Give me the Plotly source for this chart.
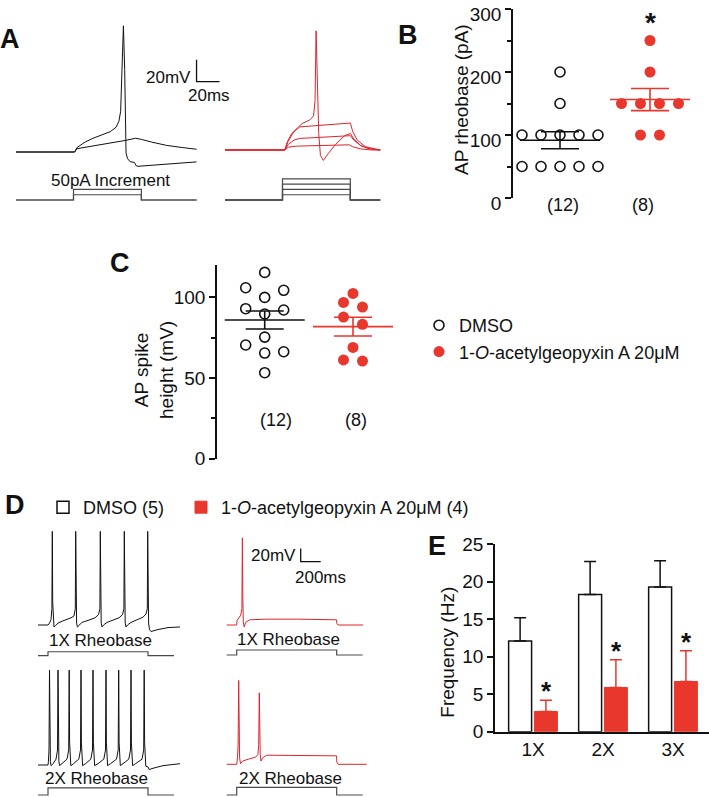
import numpy as np
import plotly.graph_objects as go

W, H = 709, 797
RED = "#e8372c"
TRACE_RED = "#e0242c"
INK = "#111111"
STEP = "#4a4a4a"
FONT = "Arial, 'Liberation Sans', Helvetica, sans-serif"

# ------------------------------------------------------------------ data
group_names = ["DMSO", "1-<i>O</i>-acetylgeopyxin A 20μM"]
bar_names = ["DMSO (5)", "1-<i>O</i>-acetylgeopyxin A 20μM (4)"]

# Panel B : AP rheobase (pA)
rheo_dmso = [200, 150, 100, 100, 100, 100, 100, 50, 50, 50, 50, 50]
rheo_drug = [250, 200, 150, 150, 150, 150, 100, 100]
b_ticks = [0, 100, 200, 300]

# Panel C : AP spike height (mV)
spike_dmso = [115.4, 105.9, 104.3, 99.9, 92.9, 92.1, 89.6, 75.3, 70.4, 66.2, 65.4, 53.2]
spike_drug = [102.4, 96.8, 93.9, 87.7, 83.2, 68.9, 61.1, 60.4]
c_ticks = [0, 50, 100]

# Panel E : firing frequency (Hz)
e_categories = ["1X", "2X", "3X"]
freq_dmso = [12.1, 18.3, 19.3]
freq_dmso_sem = [3.1, 4.4, 3.5]
freq_drug = [2.7, 5.9, 6.7]
freq_drug_sem = [1.5, 3.7, 4.1]
e_ticks = [0, 5, 10, 15, 20, 25]

# Panel A : voltage traces (ms, mV)
a_dmso_sub_t = [0, 51, 53, 65, 80, 95, 104, 109, 118, 131, 145, 157]
a_dmso_sub_v = [-65, -65, -62, -60, -57, -54.5, -52.5, -53.5, -56, -59, -61, -62.5]
a_dmso_ap_t = [0, 51, 53, 60, 67, 75, 82, 87, 89.5, 91, 92.2, 93.4, 94.5, 95.7, 97, 99.2, 103, 104.5, 106, 157]
a_dmso_ap_v = [-65, -65, -61, -56, -52.5, -49.5, -46.5, -42.5, -37, -28, 5, 49.7, 10, -66, -71, -73.8, -74.5, -77.5, -78, -74]

a_drug_sub1_t = [0, 52, 55, 62, 80, 108, 111, 118, 128, 135]
a_drug_sub1_v = [-65, -65, -62.5, -61.5, -61, -60.3, -62, -64, -65, -65]
a_drug_sub2_t = [0, 52, 55, 60, 65, 85, 104, 109, 112, 118, 126, 135]
a_drug_sub2_v = [-65, -65, -60, -56, -54.5, -53.3, -52.2, -52, -56, -61, -64, -65]
a_drug_sub3_t = [0, 52, 54, 58, 65, 85, 104, 109, 111, 115, 122, 135]
a_drug_sub3_v = [-65, -65, -58, -50, -44, -42.3, -40.7, -40.5, -48, -56, -62, -65]
a_drug_ap_t = [0, 52, 55, 60, 67, 74, 77, 78.3, 79.2, 80.2, 81.5, 83, 85.5, 90, 96, 104, 109, 112, 118, 126, 135]
a_drug_ap_v = [-65, -65, -57, -48, -41, -37.5, -34, -20, 43.3, -10, -50, -70, -74.5, -68, -60, -52, -50, -55, -61, -64, -65]

# Panel A : current protocol (ms, pA)
a_step_on, a_step_off = 50, 109
a_dmso_end, a_drug_end = 157, 135
a_dmso_steps = [50, 100]
a_drug_steps = [50, 100, 150, 200]

# Panel D : voltage traces (ms, mV)
d_dmso_1x_t = [0, 100, 115, 130, 139, 143, 147, 152, 160, 175, 200, 260, 330, 360, 373, 377, 381, 386, 394, 410,
               440, 500, 570, 605, 619, 623, 627, 632, 640, 655, 690, 750, 810, 845, 859, 863, 867, 872, 880, 895,
               930, 990, 1050, 1080, 1093, 1097, 1101, 1106, 1115, 1130, 1200, 1300, 1420]
d_dmso_1x_v = [-65, -65, -62, -57, -40, 79, -30, -62, -68, -66, -62, -58, -54, -51, -40, 79, -30, -62, -68, -65,
               -61, -58, -54, -49, -40, 79, -30, -62, -68, -65, -61, -57, -54, -49, -40, 79, -30, -62, -68, -65,
               -61, -57, -53, -48, -40, 79, -30, -62, -72, -75, -72, -69, -68]
d_dmso_2x_t = [0, 100, 104, 110, 115, 119, 124, 131,
               150, 180, 195, 200, 204, 209, 216,
               240, 290, 307, 312, 316, 321, 328,
               355, 408, 425, 430, 434, 439, 446,
               475, 528, 545, 550, 554, 559, 566,
               600, 658, 675, 680, 684, 689, 696,
               725, 785, 802, 807, 811, 816, 823,
               850, 908, 925, 930, 934, 939, 946,
               975, 1040, 1057, 1062, 1066, 1071, 1078,
               1100, 1112, 1150, 1250, 1420]
d_dmso_2x_v = [-65, -65, -60, -42, 81, -30, -60, -66,
               -63, -56, -42, 81, -30, -60, -66,
               -63, -56, -42, 81, -30, -60, -66,
               -63, -56, -42, 81, -30, -60, -66,
               -63, -56, -42, 81, -30, -60, -66,
               -63, -56, -42, 81, -30, -60, -66,
               -63, -56, -42, 81, -30, -60, -66,
               -63, -56, -42, 81, -30, -60, -66,
               -63, -56, -42, 81, -30, -60, -67,
               -68, -72, -70, -66, -63]
d_drug_1x_t = [0, 100, 104, 120, 140, 152, 157, 161, 166, 175, 190, 230, 400, 700, 1000, 1098, 1102, 1115, 1365]
d_drug_1x_v = [-65, -65, -58, -55, -50, -40, 69, -20, -60, -68, -61, -57, -56, -56, -56.5, -57, -63, -65, -65]
d_drug_2x_t = [0, 100, 108, 114, 120, 124, 129, 138, 160, 220, 290, 312, 320, 326, 330, 335, 343, 360, 400, 600,
               900, 1098, 1102, 1115, 1400]
d_drug_2x_v = [-65, -65, -55, -35, 64, -20, -55, -64, -60, -57, -54, -50, -35, 45, -20, -50, -60, -55, -51, -51,
               -52, -52, -62, -65, -65]

# Panel D : current protocol (ms, pA)
d_step_on, d_step_off, d_end = 100, 1100, 1360
d_dmso_currents = [110, 200]
d_drug_currents = [140, 215]

# ------------------------------------------------------------------ helpers
def px_x(p):
    return p / W


def px_y(p):
    return 1 - p / H


def aname(n, k):
    return f"{k}axis" if n == 1 else f"{k}axis{n}"


def aref(n, k):
    return k if n == 1 else f"{k}{n}"


layout = {}


def trace_axes(n, xbox, ybox, xref, yref):
    xp, xv, xu = xref
    yp, yv, yu = yref
    xr = [xv + (xbox[0] - xp) * xu, xv + (xbox[1] - xp) * xu]
    yr = [yv + (yp - ybox[1]) * yu, yv + (yp - ybox[0]) * yu]
    layout[aname(n, "x")] = dict(domain=[px_x(xbox[0]), px_x(xbox[1])], range=xr, visible=False,
                                 anchor=aref(n, "y"), fixedrange=True, automargin=False)
    layout[aname(n, "y")] = dict(domain=[px_y(ybox[1]), px_y(ybox[0])], range=yr, visible=False,
                                 anchor=aref(n, "x"), fixedrange=True, automargin=False)


fig = go.Figure()


def add_line(n, t, v, color, width=1.0):
    fig.add_trace(go.Scatter(x=t, y=v, mode="lines", line=dict(color=color, width=width),
                             xaxis=aref(n, "x"), yaxis=aref(n, "y"), showlegend=False, hoverinfo="skip"))


def add_step(n, t_on, t_off, t_end, amp, color=STEP, width=1.2):
    add_line(n, [0, t_on, t_on, t_off, t_off, t_end], [0, 0, amp, amp, 0, 0], color, width)


def add_scalebar(n, t0, v0, dt, dv):
    add_line(n, [t0, t0, t0 + dt], [v0 + dv, v0, v0], INK, 1.3)


def swarm_offsets(values, px_per_unit, gap_px=7.5):
    order = sorted(range(len(values)), key=lambda i: -values[i])
    rows = []
    for i in order:
        if rows and (values[rows[-1][-1]] - values[i]) * px_per_unit <= gap_px:
            rows[-1].append(i)
        else:
            rows.append([i])
    patterns = {1: [0], 2: [-0.5, 0.5], 3: [-1, 1, 0]}
    off = [0.0] * len(values)
    for r in rows:
        n = len(r)
        pat = patterns.get(n, [k - (n - 1) / 2 for k in range(n)])
        for i, s in zip(r, pat):
            off[i] = s
    return off


def value_axis(ticks, rng, dom, minor=True, label_shift=0):
    mids = [(a + b) / 2 for a, b in zip(ticks[:-1], ticks[1:])]
    d = dict(range=rng, domain=dom, tickmode="array", tickvals=ticks, ticks="outside", ticklen=6,
             tickwidth=1.5, tickcolor=INK, showline=True, linewidth=1.5, linecolor=INK, showgrid=False,
             zeroline=False, tickfont=dict(size=19, color=INK), fixedrange=True, automargin=False,
             ticklabeloverflow="allow", ticklabelshift=label_shift)
    if minor:
        d["minor"] = dict(tickmode="array", tickvals=mids, ticks="outside", ticklen=4, tickwidth=1.5,
                          tickcolor=INK, showgrid=False)
    return d


SLOT_PX = 19

# ------------------------------------------------------------------ panel B (axis 1)
b_px_unit_x = 90.0
b_x0 = 560
b_dom_x = (513, 705)
b_dom_y = (9, 198)
b_py_unit = (b_dom_y[1] - b_dom_y[0]) / 300.0
layout["xaxis"] = dict(domain=[px_x(b_dom_x[0]), px_x(b_dom_x[1])],
                       range=[1 + (b_dom_x[0] - b_x0) / b_px_unit_x, 1 + (b_dom_x[1] - b_x0) / b_px_unit_x],
                       visible=False, anchor="y", fixedrange=True, automargin=False)
layout["yaxis"] = value_axis(b_ticks, [0, 300], [px_y(b_dom_y[1]), px_y(b_dom_y[0])], label_shift=5)
layout["yaxis"]["anchor"] = "x"

# ------------------------------------------------------------------ panel C (axis 2)
c_px_unit_x = 88.3
c_x0 = 264.7
c_dom_x = (217, 405)
c_dom_y = (265, 458.5)
c_py_unit = (c_dom_y[1] - c_dom_y[0]) / 120.0
layout["xaxis2"] = dict(domain=[px_x(c_dom_x[0]), px_x(c_dom_x[1])],
                        range=[1 + (c_dom_x[0] - c_x0) / c_px_unit_x, 1 + (c_dom_x[1] - c_x0) / c_px_unit_x],
                        visible=False, anchor="y2", fixedrange=True, automargin=False)
layout["yaxis2"] = value_axis(c_ticks, [0, 120], [px_y(c_dom_y[1]), px_y(c_dom_y[0])])
layout["yaxis2"]["anchor"] = "x2"


def scatter_group(n, vals, center, px_unit_x, py_unit, color, open_marker, name, legend):
    offs = swarm_offsets(vals, py_unit)
    xs = [center + o * SLOT_PX / px_unit_x for o in offs]
    if open_marker:
        marker = dict(symbol="circle-open", size=10, color=INK, line=dict(width=1.6, color=INK))
    else:
        marker = dict(symbol="circle", size=11, color=color, line=dict(width=0))
    arr = np.array(vals, dtype=float)
    m = arr.mean()
    sem = arr.std(ddof=1) / np.sqrt(len(arr))
    lc = INK if open_marker else RED
    half = 40.0 / px_unit_x
    fig.add_trace(go.Scatter(x=[center - half, center + half], y=[m, m], mode="lines",
                             line=dict(color=lc, width=1.6), xaxis=aref(n, "x"), yaxis=aref(n, "y"),
                             showlegend=False, hoverinfo="skip"))
    fig.add_trace(go.Scatter(x=[center], y=[m], mode="markers", marker=dict(size=1, opacity=0),
                             error_y=dict(type="data", array=[sem], symmetric=True, width=19, thickness=1.6,
                                          color=lc),
                             xaxis=aref(n, "x"), yaxis=aref(n, "y"), showlegend=False, hoverinfo="skip"))
    fig.add_trace(go.Scatter(x=xs, y=vals, mode="markers", marker=marker, name=name,
                             xaxis=aref(n, "x"), yaxis=aref(n, "y"), showlegend=legend, legend="legend",
                             hoverinfo="skip", cliponaxis=False))


scatter_group(1, rheo_dmso, 1, b_px_unit_x, b_py_unit, INK, True, group_names[0], False)
scatter_group(1, rheo_drug, 2, b_px_unit_x, b_py_unit, RED, False, group_names[1], False)
scatter_group(2, spike_dmso, 1, c_px_unit_x, c_py_unit, INK, True, group_names[0], True)
scatter_group(2, spike_drug, 2, c_px_unit_x, c_py_unit, RED, False, group_names[1], True)

# ------------------------------------------------------------------ panel E (axis 3)
e_dom_x = (495, 709)
e_dom_y = (544.3, 731.7)
layout["xaxis3"] = dict(domain=[px_x(e_dom_x[0]), px_x(e_dom_x[1])], type="category",
                        categoryorder="array", categoryarray=e_categories, range=[-0.543, 2.514],
                        showline=True, linewidth=1.5, linecolor=INK, ticks="", showgrid=False,
                        tickfont=dict(size=19, color=INK), anchor="y3", fixedrange=True, automargin=False)
layout["yaxis3"] = value_axis(e_ticks, [0, 25], [px_y(e_dom_y[1]), px_y(e_dom_y[0])], minor=False)
layout["yaxis3"]["anchor"] = "x3"

fig.add_trace(go.Bar(x=e_categories, y=freq_dmso, name=bar_names[0], legend="legend2",
                     marker=dict(color="white", line=dict(color=INK, width=1.5)),
                     error_y=dict(type="data", array=freq_dmso_sem, arrayminus=[0] * 3, symmetric=False,
                                  color=INK, thickness=1.5, width=6),
                     xaxis="x3", yaxis="y3", hoverinfo="skip"))
fig.add_trace(go.Bar(x=e_categories, y=freq_drug, name=bar_names[1], legend="legend3",
                     marker=dict(color=RED, line=dict(color=RED, width=1)),
                     error_y=dict(type="data", array=freq_drug_sem, arrayminus=[0] * 3, symmetric=False,
                                  color=RED, thickness=1.5, width=6),
                     xaxis="x3", yaxis="y3", hoverinfo="skip"))

# ------------------------------------------------------------------ panel A traces
A_MS = 20 / 23.0
A_MV = 20 / 22.0
A_PA = 9.5
trace_axes(4, (10, 230), (15, 175), (16, 0, A_MS), (152, -65, A_MV))
trace_axes(5, (10, 230), (180, 205), (16, 0, A_MS), (200, 0, A_PA))
trace_axes(6, (220, 385), (15, 175), (225, 0, A_MS), (150, -65, A_MV))
trace_axes(7, (220, 385), (170, 205), (225, 0, A_MS), (200, 0, A_PA))

add_line(4, a_dmso_sub_t, a_dmso_sub_v, INK)
add_line(4, a_dmso_ap_t, a_dmso_ap_v, INK)
for amp in a_dmso_steps:
    add_step(5, a_step_on, a_step_off, a_dmso_end, amp)
for t, v in [(a_drug_sub1_t, a_drug_sub1_v), (a_drug_sub2_t, a_drug_sub2_v),
             (a_drug_sub3_t, a_drug_sub3_v), (a_drug_ap_t, a_drug_ap_v)]:
    add_line(6, t, v, TRACE_RED)
for amp in a_drug_steps:
    add_step(7, a_step_on, a_step_off, a_drug_end, amp)
add_scalebar(4, 157, -1.1, 20, 20)

# ------------------------------------------------------------------ panel D traces
D_MS = 10.0
D_MV = 20 / 13.0
D_PA = 28.0
trace_axes(8, (30, 200), (515, 636), (38, 0, D_MS), (625, -65, D_MV))
trace_axes(9, (30, 200), (642, 662), (38, 0, D_MS), (655.7, 0, D_PA))
trace_axes(10, (30, 200), (655, 772), (38, 0, D_MS), (765, -65, D_MV))
trace_axes(11, (30, 200), (780, 797), (38, 0, D_MS), (795, 0, D_PA))
trace_axes(12, (220, 400), (515, 636), (226.7, 0, D_MS), (625, -65, D_MV))
trace_axes(13, (220, 400), (640, 662), (226.7, 0, D_MS), (655, 0, D_PA))
trace_axes(14, (220, 400), (655, 772), (226.7, 0, D_MS), (764.3, -65, D_MV))
trace_axes(15, (220, 400), (780, 797), (226.7, 0, D_MS), (795, 0, D_PA))

add_line(8, d_dmso_1x_t, d_dmso_1x_v, INK)
add_step(9, d_step_on, d_step_off, d_end, d_dmso_currents[0])
add_line(10, d_dmso_2x_t, d_dmso_2x_v, INK)
add_step(11, d_step_on, d_step_off, d_end, d_dmso_currents[1])
add_line(12, d_drug_1x_t, d_drug_1x_v, TRACE_RED)
add_step(13, d_step_on, d_step_off, d_end, d_drug_currents[0])
add_line(14, d_drug_2x_t, d_drug_2x_v, TRACE_RED)
add_step(15, d_step_on, d_step_off, d_end, d_drug_currents[1])
add_scalebar(12, 740, 32.5, 200, 20)

# ------------------------------------------------------------------ annotations
anns = []


def ann(text, xp, yp, size=17, xanchor="center", angle=0, **kw):
    d = dict(text=text, x=px_x(xp), y=px_y(yp), xref="paper", yref="paper", xanchor=xanchor,
             yanchor="middle", showarrow=False, font=dict(size=size, color=INK, family=FONT),
             textangle=angle)
    d.update(kw)
    anns.append(d)


for lab, xp, yp in [("A", 10, 39), ("B", 408, 35), ("C", 120, 263), ("D", 14.5, 505), ("E", 436.5, 546)]:
    ann(f"<b>{lab}</b>", xp, yp, size=27)

ann("20mV", 193, 77.5, xanchor="right")
ann("20ms", 209, 96)
ann("50pA Increment", 110.8, 180)

ann("20mV", 298, 555, xanchor="right")
ann("200ms", 320, 577.5)
ann("1X Rheobase", 100, 640)
ann("1X Rheobase", 288.8, 639)
ann("2X Rheobase", 96.7, 778)
ann("2X Rheobase", 290.5, 778)

ann("AP rheobase (pA)", 461, 100, size=19, angle=-90)
ann("AP spike<br>height (mV)", 154, 370, size=19, angle=-90)
ann("Frequency (Hz)", 446.7, 652, size=19, angle=-90)

# group sizes
for n, grp, shifts, yp in [(1, [rheo_dmso, rheo_drug], [3, -7], 205), (2, [spike_dmso, spike_drug], [11, 3], 420)]:
    for k, vals in enumerate(grp):
        anns.append(dict(text=f"({len(vals)})", x=k + 1, y=px_y(yp), xref=aref(n, "x"), yref="paper",
                         xshift=shifts[k], showarrow=False, yanchor="middle",
                         font=dict(size=18, color=INK, family=FONT)))

# significance stars
anns.append(dict(text="<b>*</b>", x=2, y=max(rheo_drug), xref="x", yref="y", yshift=18, showarrow=False,
                 yanchor="middle", font=dict(size=28, color=INK, family=FONT)))
for cat, v, s in zip(e_categories, freq_drug, freq_drug_sem):
    anns.append(dict(text="<b>*</b>", x=cat, y=v + s, xref="x3", yref="y3", xshift=13, yshift=9,
                     showarrow=False, yanchor="middle", font=dict(size=26, color=INK, family=FONT)))

legend_common = dict(xanchor="left", yanchor="top", font=dict(size=18, color=INK, family=FONT),
                     bgcolor="rgba(0,0,0,0)", itemclick=False, itemdoubleclick=False)
layout.update(
    template="none",
    width=W, height=H, margin=dict(l=0, r=0, t=0, b=0, pad=0, autoexpand=False),
    paper_bgcolor="white", plot_bgcolor="rgba(0,0,0,0)",
    font=dict(family=FONT, color=INK),
    barmode="group", bargap=0.263, bargroupgap=0.11,
    annotations=anns,
    legend=dict(x=px_x(419), y=px_y(307), tracegroupgap=0, **legend_common),
    legend2=dict(x=px_x(43), y=px_y(489), **legend_common),
    legend3=dict(x=px_x(181), y=px_y(489), **legend_common),
    showlegend=True,
)
fig.update_layout(**layout)
fig.write_html("out.html", config={"displayModeBar": False, "responsive": False},
               post_script="document.body.style.margin='0';document.body.style.overflow='hidden';")
